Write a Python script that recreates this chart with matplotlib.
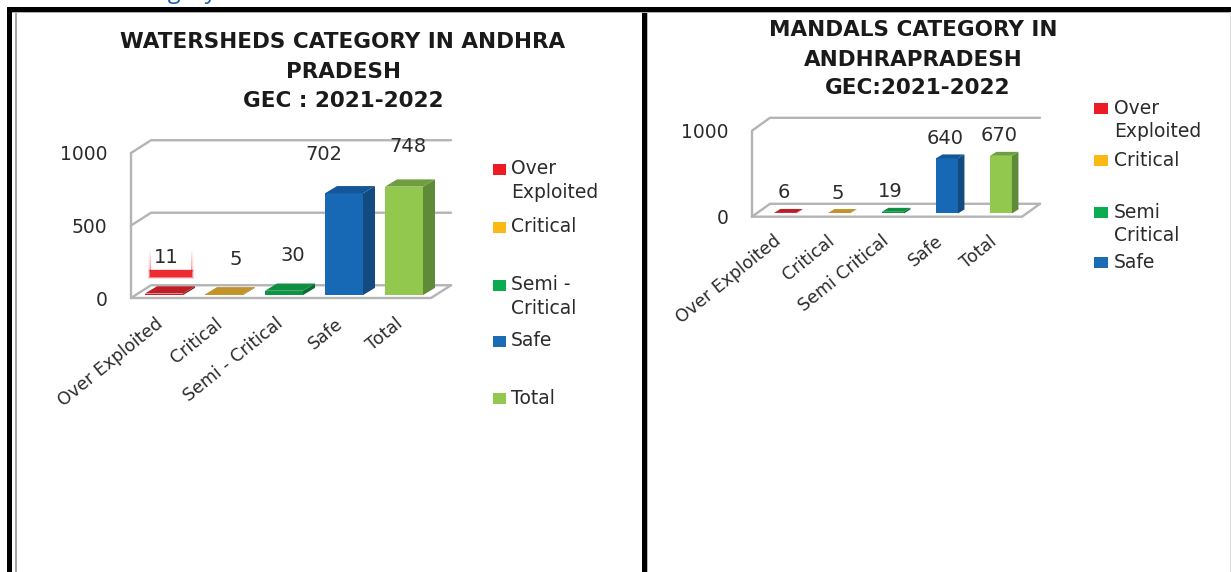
import numpy as np
import matplotlib
matplotlib.use("Agg")
import matplotlib.pyplot as plt
from matplotlib.patches import Rectangle
from matplotlib.transforms import ScaledTranslation

W, H = 1231, 572

# ---- data ----
cats_left = ["Over Exploited", "Critical", "Semi - Critical", "Safe", "Total"]
vals_left = [11, 5, 30, 702, 748]
cats_right = ["Over Exploited", "Critical", "Semi Critical", "Safe", "Total"]
vals_right = [6, 5, 19, 640, 670]
yticks = [0, 500, 1000]
yticks_right = [0, 1000]
title_left = ["WATERSHEDS CATEGORY IN ANDHRA", "PRADESH", "GEC : 2021-2022"]
title_right = ["MANDALS CATEGORY IN", "ANDHRAPRADESH", "GEC:2021-2022"]
legend_left = ["Over\nExploited", "Critical", "Semi -\nCritical", "Safe", "Total"]
legend_right = ["Over\nExploited", "Critical", "Semi\nCritical", "Safe"]

# ---- styles ----
front = ["#c3202a", "#c79a2c", "#0e9345", "#1769b5", "#92c84e"]
side = ["#8f1a20", "#96741f", "#0a6b33", "#134a80", "#5f8a38"]
top = ["#bf1e28", "#c2932a", "#0f8f42", "#14569a", "#6f9e3e"]
legend_cols = ["#ed1c24", "#fdb913", "#0bab4f", "#1b6bb5", "#92c84e"]
GRID = "#b4b4b4"
TXT = "#2b2b2b"
SANS = "DejaVu Sans"
TITLE = "DejaVu Sans"

fig = plt.figure(figsize=(W / 100, H / 100), dpi=100, facecolor="white")

# overlay in pixel coordinates, for the frame, titles and legends
ov = fig.add_axes([0, 0, 1, 1], zorder=0)
ov.set_xlim(0, W)
ov.set_ylim(H, 0)
ov.axis("off")


def box(x0, y0, x1, y1, color):
    ov.add_patch(Rectangle((x0, y0), x1 - x0, y1 - y0, fc=color, ec="none"))


box(6.5, 7, W, 12, "black")
box(6.5, 7, 11.5, H, "black")
box(642, 7, 647, H, "black")
box(15, 12, 17, H, "#a8a8a8")
box(11.5, 12, W, 13, "#b0b0b0")
box(647, 12, 648, H, "#b8b8b8")
box(1230, 12, W, H, "#d8d8d8")

ov.text(118, -1.5, "Category", color="#1f5fb0", fontsize=17, family="Open Sans",
        ha="left", va="baseline", clip_on=False)


def panel(x0, x1, y_base, y_top, cats, vals, ticks, shift, bar_w, depth_x,
          depth_y, lift, back_x, back_y, label_off, pad, tick_dx):
    axw = x1 - x0
    ax = fig.add_axes([x0 / W, 1 - y_base / H, axw / W, (y_base - y_top) / H],
                      zorder=2)
    ax.patch.set_alpha(0)
    ax.set_xlim(-0.5, 4.5)
    ax.set_ylim(0, 1000)
    for s in ax.spines.values():
        s.set_visible(False)
    xs = np.arange(len(vals)) + shift

    # 3-D walls
    kw = dict(color=GRID, lw=1.7, clip_on=False, zorder=1, solid_capstyle="round")
    ax.plot([-0.5, -0.5], [0, ticks[-1]], **kw)
    for t in ticks:
        ax.plot([-0.5, -0.5 + back_x, 4.5 + back_x], [t, t + back_y, t + back_y], **kw)
    ax.plot([-0.5, 4.5, 4.5 + back_x], [0, 0, back_y], **kw)

    # bars with side and top faces
    for i, (x, v) in enumerate(zip(xs, vals)):
        ax.bar(x, v, width=bar_w, bottom=lift, color=front[i], zorder=3)
        xl, xr = x - bar_w / 2, x + bar_w / 2
        yb, yt = lift, lift + v
        ax.fill([xr, xr + depth_x, xr + depth_x, xr],
                [yb, yb + depth_y, yt + depth_y, yt],
                color=side[i], clip_on=False, zorder=3, lw=0)
        ax.fill([xl, xr, xr + depth_x, xl + depth_x],
                [yt, yt, yt + depth_y, yt + depth_y],
                color=top[i], clip_on=False, zorder=3, lw=0)
        ax.annotate(str(v), (x, yt), xytext=(label_off[i][0] * 0.72, label_off[i][1] * 0.72),
                    textcoords="offset points", ha="center", va="center",
                    fontsize=14, color=TXT, family=SANS, annotation_clip=False)

    ax.set_xticks(xs)
    ax.set_xticklabels(cats, rotation=39, ha="right", rotation_mode="anchor",
                       fontsize=12.5, color=TXT, family=SANS)
    ax.set_yticks(ticks)
    ax.set_yticklabels([str(t) for t in ticks], fontsize=13.5, color=TXT, family=SANS)
    ax.tick_params(axis="x", length=0, pad=pad)
    ax.tick_params(axis="y", length=0, pad=17)
    off = ScaledTranslation(tick_dx / 100, 0, fig.dpi_scale_trans)
    for lab in ax.get_xticklabels():
        lab.set_transform(lab.get_transform() + off)
    return ax


panel(131, 431, 298, 153, cats_left, vals_left, yticks,
      shift=0.05, bar_w=38 / 60, depth_x=12 / 60, depth_y=50, lift=20,
      back_x=20 / 60, back_y=88,
      label_off=[(2, 36), (12, 35), (9, 35), (-20, 39), (4, 40)], pad=12, tick_dx=-9)
panel(752, 1022, 216.7, 130.7, cats_right, vals_right, yticks_right,
      shift=0.11, bar_w=22 / 54, depth_x=6.5 / 54, depth_y=46, lift=38,
      back_x=18 / 54, back_y=150,
      label_off=[(-1, 20), (-1, 20), (-3, 20), (-2, 20), (-2, 20)], pad=11, tick_dx=-12)

# red glow around the "11" label
for k, a in enumerate([0.85, 0.45, 0.15]):
    box(150 - k, 270 - k * 0.5, 192 + k, 277 + k * 0.8, (0.93, 0.11, 0.14, a))
    for xg in (150.5 - k, 191.5 + k):
        for j, yy in enumerate(range(248, 270, 3)):
            box(xg - 0.5, yy, xg + 0.5, yy + 3, (0.93, 0.11, 0.14, a * 0.08 * j))

# titles
for s, x, y in zip(title_left, (343, 343, 343), (42, 72, 101)):
    ov.text(x, y, s, ha="center", va="center", fontsize=15.5, fontweight="bold",
            family=TITLE, color="#1a1a1a")
for s, x, y in zip(title_right, (913, 913, 918), (30, 60, 88)):
    ov.text(x, y, s, ha="center", va="center", fontsize=15.5, fontweight="bold",
            family=TITLE, color="#1a1a1a")


def legend(labels, sq_x, sq_w, sq_ys, tx):
    for i, (s, y) in enumerate(zip(labels, sq_ys)):
        box(sq_x, y - 5.5, sq_x + sq_w, y + 5.5, legend_cols[i])
        for line, t in enumerate(s.split("\n")):
            ov.text(tx, y + line * 23.5, t, ha="left", va="center", fontsize=13.5,
                    color=TXT, family=SANS)


legend(legend_left, 493, 12.5, (169, 227, 285, 341, 398), 511)
legend(legend_right, 1094, 14, (108, 160, 212, 262), 1114)

fig.savefig("out.png", dpi=100)
